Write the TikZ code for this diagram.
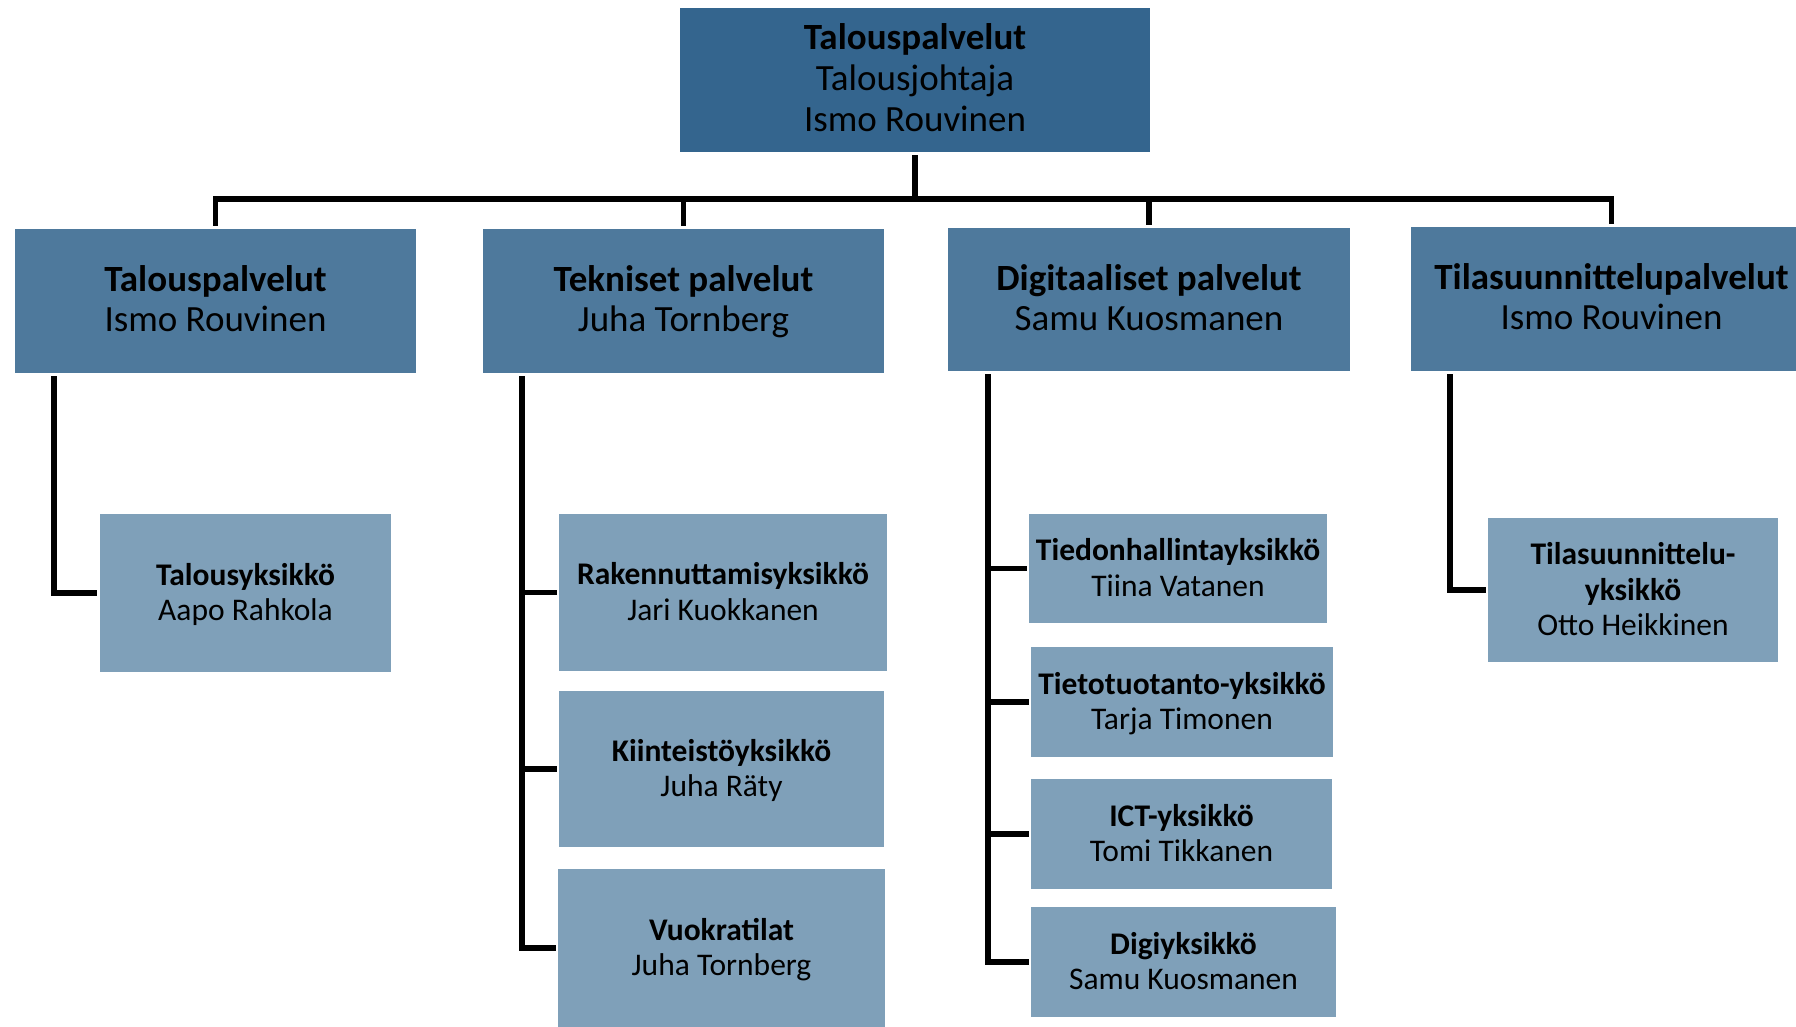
\documentclass[tikz,border=0pt]{standalone}
\usepackage{fontspec}
\setmainfont{Carlito}
\usetikzlibrary{calc}
\definecolor{topblue}{RGB}{52,101,142}
\definecolor{midblue}{RGB}{78,121,156}
\definecolor{lightblue}{RGB}{127,160,185}
\newcommand\hiA{\rule{0pt}{33.7pt}}
\newcommand\hiB{\rule{0pt}{33pt}}
\newcommand\hiC{\rule{0pt}{30.8pt}}
\tikzset{
  boxbase/.style={inner sep=0pt, align=center},
  topbox/.style={boxbase, fill=topblue, minimum width=470pt, minimum height=144pt,
    font=\fontsize{37}{41}\selectfont,
    execute at end node={\rule[-12.3pt]{0pt}{1pt}}},
  midbox/.style={boxbase, fill=midblue, minimum width=401pt, minimum height=144pt,
    font=\fontsize{37}{40}\selectfont,
    execute at end node={\rule[-12pt]{0pt}{1pt}}},
  lowbox/.style={boxbase, fill=lightblue,
    font=\fontsize{31.5}{35.5}\selectfont,
    execute at end node={\rule[-10.6pt]{0pt}{1pt}}},
  conn/.style={draw=black, line width=5.5pt}
}
\begin{document}
\begin{tikzpicture}[x=1pt,y=-1pt]
\useasboundingbox (0,0) rectangle (1796,1026);
\fill[white] (0,0) rectangle (1796,1026);

\node[topbox] (top) at (915,80) {\hiA\textbf{Talouspalvelut}\\Talousjohtaja\\Ismo Rouvinen};

\node[midbox] (L1) at (215.5,301) {\hiB\textbf{Talouspalvelut}\\Ismo Rouvinen};
\node[midbox] (L2) at (683.5,301) {\hiB\textbf{Tekniset palvelut}\\Juha Tornberg};
\node[midbox, minimum width=402pt, minimum height=143pt] (L3) at (1149,299.5) {\hiB\textbf{Digitaaliset palvelut}\\Samu Kuosmanen};
\node[midbox] (L4) at (1611.5,299) {\hiB\textbf{Tilasuunnittelupalvelut}\\Ismo Rouvinen};

\node[lowbox, minimum width=291pt, minimum height=158pt] (c11) at (245.5,593) {\hiC\textbf{Talousyksikkö}\\Aapo Rahkola};

\node[lowbox, minimum width=328pt, minimum height=157pt] (c21) at (723,592.5) {\hiC\textbf{Rakennuttamisyksikkö}\\Jari Kuokkanen};
\node[lowbox, minimum width=325pt, minimum height=156pt] (c22) at (721.5,769) {\hiC\textbf{Kiinteistöyksikkö}\\Juha Räty};
\node[lowbox, minimum width=327pt, minimum height=158pt] (c23) at (721.5,948) {\hiC\textbf{Vuokratilat}\\Juha Tornberg};

\node[lowbox, minimum width=298pt, minimum height=109pt] (c31) at (1178,568.5) {\hiC\textbf{Tiedonhallintayksikkö}\\Tiina Vatanen};
\node[lowbox, minimum width=302pt, minimum height=110pt] (c32) at (1182,702) {\hiC\textbf{Tietotuotanto-yksikkö}\\Tarja Timonen};
\node[lowbox, minimum width=301pt, minimum height=110pt] (c33) at (1181.5,834) {\hiC\textbf{ICT-yksikkö}\\Tomi Tikkanen};
\node[lowbox, minimum width=305pt, minimum height=110pt] (c34) at (1183.5,962) {\hiC\textbf{Digiyksikkö}\\Samu Kuosmanen};

\node[lowbox, minimum width=290pt, minimum height=144pt] (c41) at (1633,590) {\hiC\textbf{Tilasuunnittelu-}\\\textbf{yksikkö}\\Otto Heikkinen};

% top connectors
\foreach \L in {L1,L2,L3,L4}{
  \draw[conn] ([yshift=-3pt]top.south) -- ++(0,44) -| ([yshift=3pt]\L.north);
}

% trunk coordinates
\coordinate (t1) at ($(L1.south west)+(39,3)$);
\coordinate (t2) at ($(L2.south west)+(39,3)$);
\coordinate (t3) at ($(L3.south west)+(40,3)$);
\coordinate (t4) at ($(L4.south west)+(39,3)$);

\draw[conn] (t1) |- ([xshift=-3pt]c11.west);
\draw[conn] (t2) |- ([xshift=-2pt]c21.west);
\draw[conn] (t2) |- ([xshift=-2pt]c22.west);
\draw[conn] (t2) |- ([xshift=-2pt]c23.west);
\draw[conn] (t3) |- ([xshift=-2pt]c31.west);
\draw[conn] (t3) |- ([xshift=-2pt]c32.west);
\draw[conn] (t3) |- ([xshift=-2pt]c33.west);
\draw[conn] (t3) |- ([xshift=-2pt]c34.west);
\draw[conn] (t4) |- ([xshift=-2pt]c41.west);
\end{tikzpicture}
\end{document}
